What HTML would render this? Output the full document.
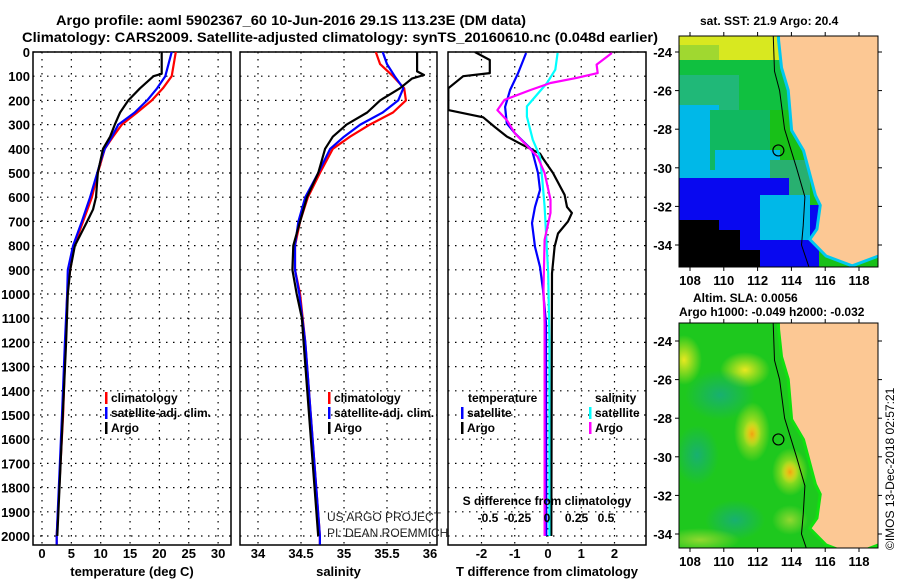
<!DOCTYPE html>
<html><head><meta charset="utf-8"><style>
body{margin:0;background:#fff;}
svg{display:block;font-family:"Liberation Sans",sans-serif;}
</style></head><body>
<svg id="c" width="900" height="580" viewBox="0 0 900 580"></svg>
<script>
// ---- data (depth in dbar) ----
const tDepth=[0,90,100,150,200,250,300,350,400,500,600,650,700,800,900,1000,1200,2000];
const tArgo=[20.4,20.4,19,16.7,14.7,13.3,12.4,11.6,10.4,9.5,9.2,8.7,7.7,5.6,4.8,4.4,4.1,2.6];
const tcDepth=[0,100,150,200,250,300,350,400,450,500,600,700,800,900,1000,1200,1500,2000,2035];
const tClim=[22.8,22.1,20.6,18.7,16.2,13.6,12.1,10.7,10.1,9.5,8.5,7,5.5,4.8,4.3,4.0,3.6,2.5,2.5];
const tSat=[22.1,21,19.6,17.9,15.8,13,11.9,10.7,10,9.4,8.2,6.8,5.3,4.4,4.3,3.9,3.4,2.5,2.5];
const sDepth=[0,80,95,110,150,200,250,300,350,400,500,600,700,800,900,1000,1100,1200,2000];
const sArgo=[35.85,35.85,35.93,35.79,35.65,35.42,35.27,35.03,34.87,34.78,34.70,34.57,34.49,34.41,34.40,34.45,34.51,34.53,34.70];
const scDepth=[0,50,100,150,200,250,300,350,400,500,600,700,800,900,1000,1200,2000,2035];
const sClim=[35.37,35.42,35.57,35.70,35.72,35.57,35.30,35.07,34.87,34.72,34.58,34.49,34.43,34.43,34.49,34.55,34.72,34.72];
const sSat=[35.45,35.50,35.59,35.69,35.63,35.45,35.19,35.0,34.84,34.70,34.55,34.47,34.43,34.43,34.48,34.55,34.72,34.72];
const dtArgoDepth=[0,33,87,100,150,240,270,310,350,385,420,440,500,590,640,665,700,750,805,915,2000];
const dtArgo=[-2.2,-1.75,-1.75,-2.55,-3.0,-3.0,-1.95,-1.6,-1.23,-0.75,-0.24,-0.15,0.15,0.5,0.57,0.72,0.6,0.3,0.2,0.12,0.1];
const dtSatDepth=[4,87,157,227,295,335,405,500,570,640,707,805,888,983,1120,2000];
const dtSat=[-0.66,-0.9,-1.14,-1.29,-1.24,-1.0,-0.48,-0.3,-0.24,-0.39,-0.48,-0.39,-0.24,-0.15,-0.06,-0.05];
const dsSatDepth=[4,73,128,225,267,363,432,528,638,915,1190,2000];
const dsSat=[0.09,0.07,0,-0.17,-0.17,-0.12,-0.06,-0.04,-0.02,0.01,0.02,0.02];
const dsArgoDepth=[4,52,87,107,128,157,198,240,282,337,392,433,500,610,665,776,983,1120,2000];
const dsArgo=[0.55,0.42,0.43,0.25,0.03,-0.14,-0.36,-0.42,-0.34,-0.27,-0.16,-0.08,-0.02,0.03,0.03,-0.02,-0.03,-0.02,-0.02];
const depthTicks=[0,100,200,300,400,500,600,700,800,900,1000,1100,1200,1300,1400,1500,1600,1700,1800,1900,2000];
const tTicks=[0,5,10,15,20,25,30];
const sTicks=[34,34.5,35,35.5,36];
const sTickLabels=["34","34.5","35","35.5","36"];
const dtTicks=[-2,-1,0,1,2];
const dsTicks=[-0.5,-0.25,0,0.25,0.5];
const latTicks=[-24,-26,-28,-30,-32,-34];
const lonTicks=[108,110,112,114,116,118];
const coast=[[113.3,-22.5],[113.33,-23.4],[113.5,-24.8],[113.9,-25.97],[114.1,-28.04],[114.8,-29.08],[115.5,-31.4],[115.8,-31.93],[115.6,-33.2],[115.2,-33.7],[116.1,-34.5],[117.6,-35.0],[119.1,-34.5]];
const shelf=[[112.9,-22.5],[113.0,-25],[113.3,-26],[113.6,-28],[114.3,-30],[114.8,-31.5],[114.7,-33],[114.6,-34],[115.1,-35.3]];
const floatPos=[113.23,-29.1];

const NS="http://www.w3.org/2000/svg";
const svg=document.getElementById('c');
function el(t,a,p){const e=document.createElementNS(NS,t);for(const k in a)e.setAttribute(k,a[k]);(p||svg).appendChild(e);return e;}
function txt(s,x,y,a,p){const e=el('text',Object.assign({x:x,y:y,'font-size':13,'font-weight':'bold'},a||{}),p);e.textContent=s;return e;}
const Y=d=>52+d*0.242;
const TOP=52,BOT=545;

function panel(name,x0,x1,X,ticks,labels,title){
  const g=el('g',{});
  
  
  const cg=el('defs',{},g);
  const cp=el('clipPath',{id:'clip-'+name},cg);
  el('rect',{x:x0,y:TOP,width:x1-x0,height:BOT-TOP},cp);
  depthTicks.forEach(d=>{el('line',{x1:x0,x2:x1,y1:Y(d),y2:Y(d),stroke:'#000','stroke-width':1.2,'stroke-dasharray':'1.5 5.5'},g);});
  ticks.forEach(v=>{el('line',{x1:X(v),x2:X(v),y1:TOP,y2:BOT,stroke:'#000','stroke-width':1.2,'stroke-dasharray':'1.5 5.5'},g);});
  ticks.forEach((v,i)=>{const t=txt(labels[i],X(v),558,{'text-anchor':'middle'},g);
    });
  const tt=txt(title,(x0+x1)/2,576,{'text-anchor':'middle'},g);
  
  el('rect',{x:x0,y:TOP,width:x1-x0,height:BOT-TOP,fill:'none',stroke:'#000','stroke-width':1.5},g);
  return {g:g,clip:'url(#clip-'+name+')'};
}
function series(p,depths,vals,X,color,name,w){
  const pts=depths.map((d,i)=>X(vals[i]).toFixed(1)+','+Y(d).toFixed(1)).join(' ');
  const e=el('polyline',{points:pts,fill:'none',stroke:color,'stroke-width':w||2.2,'clip-path':p.clip,'stroke-linejoin':'round'},p.g);
  
  
}

const t1=txt("Argo profile: aoml 5902367_60 10-Jun-2016 29.1S 113.23E (DM data)",56,25,{textLength:470,lengthAdjust:'spacingAndGlyphs','font-size':14});

const t2=txt("Climatology: CARS2009. Satellite-adjusted climatology: synTS_20160610.nc (0.048d earlier)",22,42,{textLength:636,lengthAdjust:'spacingAndGlyphs','font-size':14});


depthTicks.forEach(d=>{const t=txt(String(d),30,Y(d)+5,{'text-anchor':'end'});
  });

const XT=v=>42+v*5.87;
const p1=panel('temperature-panel',33,231,XT,tTicks,tTicks.map(String),'temperature (deg C)');
series(p1,tcDepth,tClim,XT,'#ff0000','temp-climatology-line');
series(p1,tcDepth,tSat,XT,'#0000ff','temp-satellite-line');
series(p1,tDepth,tArgo,XT,'#000','temp-argo-line');
const XS=v=>258+(v-34)*86;
const p2=panel('salinity-panel',240,437,XS,sTicks,sTickLabels,'salinity');
series(p2,scDepth,sClim,XS,'#ff0000','sal-climatology-line');
series(p2,scDepth,sSat,XS,'#0000ff','sal-satellite-line');
series(p2,sDepth,sArgo,XS,'#000','sal-argo-line');
const XD=v=>548+v*33.25;
const XSD=v=>547+v*118;
const p3=panel('difference-panel',448,646,XD,dtTicks,dtTicks.map(String),'T difference from climatology');
series(p3,dtArgoDepth,dtArgo,XD,'#000','tdiff-argo-line');
series(p3,dtSatDepth,dtSat,XD,'#0000ff','tdiff-satellite-line');
series(p3,dsSatDepth,dsSat,XSD,'#00ffff','sdiff-satellite-line');
series(p3,dsArgoDepth,dsArgo,XSD,'#ff00ff','sdiff-argo-line');
dsTicks.forEach(v=>{const t=txt(String(v),XSD(v),522,{'text-anchor':'middle','font-size':12});
  });
const sd=txt("S difference from climatology",547,505,{'text-anchor':'middle','font-size':12});


function leg(x,y,color,label,name){
  const g=el('g',{});
  el('rect',{x:x,y:y-10,width:2.5,height:12,fill:color},g);
  txt(label,x+6,y,{'font-size':12},g);
}
leg(105,402,'#ff0000','climatology','legend-t-climatology');
leg(105,417,'#0000ff','satellite-adj. clim.','legend-t-satellite');
leg(105,432,'#000','Argo','legend-t-argo');
leg(328,402,'#ff0000','climatology','legend-s-climatology');
leg(328,417,'#0000ff','satellite-adj. clim.','legend-s-satellite');
leg(328,432,'#000','Argo','legend-s-argo');
const lt=txt("temperature",468,402,{'font-size':12});
leg(461,417,'#0000ff','satellite','legend-dt-satellite');
leg(461,432,'#000','Argo','legend-dt-argo');
const ls=txt("salinity",595,402,{'font-size':12});
leg(589,417,'#00ffff','satellite','legend-ds-satellite');
leg(589,432,'#ff00ff','Argo','legend-ds-argo');
const us=txt("US ARGO PROJECT",327,521,{'font-weight':'normal','font-size':12,fill:'#222'});

const pi=txt("PI: DEAN ROEMMICH",327,537,{'font-weight':'normal','font-size':12,fill:'#222'});


const MX0=679,MX1=878;
const LX=lon=>690+(lon-108)*16.9;
function map(name,top,bot,off,blobs,base,edge){
  const g=el('g',{});
  const LY=lat=>52+off+(-24-lat)*19.3;
  const d=el('defs',{},g);
  const cp=el('clipPath',{id:'cl-'+name},d);
  el('rect',{x:MX0,y:top,width:MX1-MX0,height:bot-top},cp);
  const ig=el('g',{'clip-path':'url(#cl-'+name+')'},g);
  el('rect',{x:MX0,y:top,width:MX1-MX0,height:bot-top,fill:base},ig);
  blobs(ig,d,name);
  const cpts=coast.map(c=>LX(c[0]).toFixed(1)+','+LY(c[1]).toFixed(1)).join(' ');
  el('polyline',{points:cpts,fill:'none',stroke:edge,'stroke-width':6},ig);
  const land=el('polygon',{points:cpts+' 890,'+(bot+20)+' 890,'+(top-20),fill:'#fcc894'},ig);
  
  el('polyline',{points:shelf.map(c=>LX(c[0]).toFixed(1)+','+LY(c[1]).toFixed(1)).join(' '),fill:'none',stroke:'#000','stroke-width':1},ig);
  const fc=el('circle',{cx:LX(floatPos[0]),cy:LY(floatPos[1]),r:5.5,fill:'none',stroke:'#000','stroke-width':1.2},ig);
  
  el('rect',{x:MX0,y:top,width:MX1-MX0,height:bot-top,fill:'none',stroke:'#000','stroke-width':1},g);
  latTicks.forEach(l=>{el('line',{x1:MX0-4,x2:MX0,y1:LY(l),y2:LY(l),stroke:'#000'},g);el('line',{x1:MX1,x2:MX1+4,y1:LY(l),y2:LY(l),stroke:'#000'},g);
    const t=txt(String(l),672,LY(l)+5,{'text-anchor':'end'},g);});
  lonTicks.forEach(l=>{el('line',{x1:LX(l),x2:LX(l),y1:bot,y2:bot+4,stroke:'#000'},g);el('line',{x1:LX(l),x2:LX(l),y1:top-4,y2:top,stroke:'#000'},g);
    const t=txt(String(l),LX(l),bot+18,{'text-anchor':'middle'},g);});
}
map('sst-map',36,267,0,(g,d,n)=>{
  el('rect',{x:679,y:36,width:110,height:30,fill:'#d8e820'},g);
  el('rect',{x:679,y:45,width:40,height:25,fill:'#a0d830'},g);
  el('rect',{x:679,y:60,width:110,height:50,fill:'#10c040'},g);
  el('rect',{x:679,y:75,width:60,height:40,fill:'#20b878'},g);
  el('rect',{x:679,y:105,width:40,height:80,fill:'#00b8e8'},g);
  el('rect',{x:710,y:110,width:60,height:60,fill:'#10b860'},g);
  el('rect',{x:715,y:150,width:65,height:30,fill:'#00b8e8'},g);
  el('rect',{x:770,y:160,width:40,height:60,fill:'#28b070'},g);
  el('rect',{x:679,y:178,width:110,height:30,fill:'#0808f0'},g);
  el('rect',{x:679,y:205,width:140,height:62,fill:'#0808f0'},g);
  el('rect',{x:760,y:195,width:50,height:45,fill:'#00b8e8'},g);
  el('rect',{x:679,y:220,width:40,height:47,fill:'#000'},g);
  el('rect',{x:715,y:230,width:25,height:20,fill:'#000'},g);
  el('rect',{x:700,y:250,width:60,height:17,fill:'#000'},g);
},'#18c018','#00c8f0');
map('sla-map',323,548,289,(g,d,n)=>{
  const rg=(id,c1,c2)=>{const r=el('radialGradient',{id:id},d);el('stop',{offset:'0%','stop-color':c1},r);el('stop',{offset:'100%','stop-color':c2,'stop-opacity':0},r);return 'url(#'+id+')';};
  const yel=rg('gy','#e8e820','#e8e820'),ora=rg('go','#f0a010','#e8e020'),teal=rg('gt','#18b070','#18b070'),lg=rg('gl','#90d830','#90d830');
  el('ellipse',{cx:684,cy:360,rx:18,ry:25,fill:yel},g);
  el('ellipse',{cx:745,cy:370,rx:25,ry:18,fill:yel},g);
  el('ellipse',{cx:752,cy:432,rx:18,ry:30,fill:yel},g);
  el('ellipse',{cx:752,cy:434,rx:9,ry:14,fill:ora},g);
  el('ellipse',{cx:790,cy:472,rx:18,ry:24,fill:yel},g);
  el('ellipse',{cx:790,cy:472,rx:9,ry:12,fill:ora},g);
  el('ellipse',{cx:720,cy:395,rx:35,ry:25,fill:teal},g);
  el('ellipse',{cx:697,cy:455,rx:22,ry:30,fill:teal},g);
  el('ellipse',{cx:735,cy:520,rx:30,ry:20,fill:teal},g);
  el('ellipse',{cx:700,cy:540,rx:40,ry:12,fill:lg},g);
  el('ellipse',{cx:790,cy:520,rx:18,ry:15,fill:lg},g);
},'#1ec81e','#10e010');
const sst=txt("sat. SST: 21.9 Argo: 20.4",700,25,{'font-size':12});

const sla=txt("Altim. SLA: 0.0056",693,302,{'font-size':12});

const ah=txt("Argo h1000: -0.049 h2000: -0.032",679,316,{'font-size':12});

const im=txt("©IMOS 13-Dec-2018 02:57:21",0,0,{'font-weight':'normal','font-size':12,transform:'translate(894,550) rotate(-90)'});

</script>
</body></html>
